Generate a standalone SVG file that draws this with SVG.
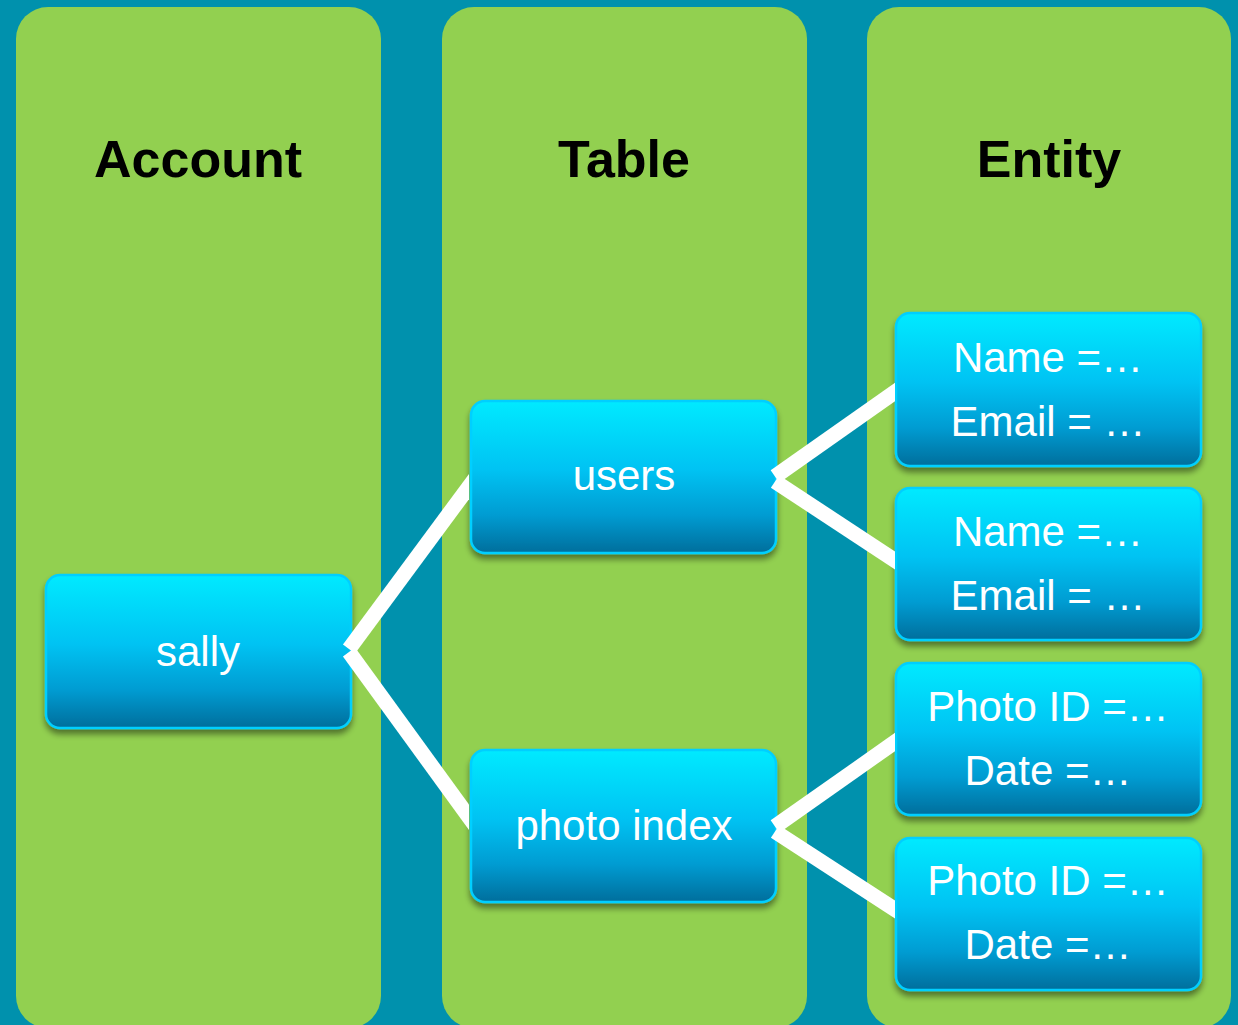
<svg xmlns="http://www.w3.org/2000/svg" width="1238" height="1025" viewBox="0 0 1238 1025">
<defs>
<linearGradient id="g" x1="0" y1="0" x2="0" y2="1">
<stop offset="0" stop-color="#00EAFF"/>
<stop offset="0.45" stop-color="#00C3F3"/>
<stop offset="0.75" stop-color="#009CD2"/>
<stop offset="1" stop-color="#006E9C"/>
</linearGradient>
<filter id="sh" x="-10%" y="-10%" width="120%" height="130%">
<feGaussianBlur in="SourceAlpha" stdDeviation="3"/>
<feOffset dx="0" dy="5"/>
<feComponentTransfer><feFuncA type="linear" slope="0.45"/></feComponentTransfer>
<feMerge><feMergeNode/><feMergeNode in="SourceGraphic"/></feMerge>
</filter>
<clipPath id="clipA"><rect x="0" y="0" width="469" height="1025"/></clipPath>
<clipPath id="clipB"><rect x="0" y="0" width="895" height="1025"/></clipPath>
</defs>
<style>
.panel{fill:#92D050}
.title{font-family:"Liberation Sans",Arial,sans-serif;font-weight:bold;font-size:52px;fill:#000;text-anchor:middle}
.box{fill:url(#g);stroke:#00CFFF;stroke-width:2.5}
.lbl{font-family:"Liberation Sans",Arial,sans-serif;font-size:42px;fill:#fff;text-anchor:middle}
.conn{stroke:#fff;stroke-width:15;fill:none;stroke-linecap:butt}
</style>
<rect width="1238" height="1025" fill="#0091AD"/>
<g id="col-account"><rect class="panel" x="16" y="7" width="365" height="1021" rx="32"/><text class="title" x="198" y="177">Account</text></g>
<g id="col-table"><rect class="panel" x="442" y="7" width="365" height="1021" rx="32"/><text class="title" x="624" y="177">Table</text></g>
<g id="col-entity"><rect class="panel" x="867" y="7" width="364" height="1021" rx="32"/><text class="title" x="1049" y="177">Entity</text></g>
<g id="sally"><rect class="box" filter="url(#sh)" x="46" y="575" width="305" height="153" rx="14"/><text class="lbl" x="198" y="666">sally</text></g>
<g id="users"><rect class="box" filter="url(#sh)" x="471" y="401" width="305" height="152" rx="14"/><text class="lbl" x="624" y="490">users</text></g>
<g id="photo-index"><rect class="box" filter="url(#sh)" x="471" y="750" width="305" height="152" rx="14"/><text class="lbl" x="624" y="840">photo index</text></g>
<g id="entity1"><rect class="box" filter="url(#sh)" x="896" y="313" width="305" height="153" rx="14"/><text class="lbl" x="1048" y="372">Name =…</text><text class="lbl" x="1048" y="436">Email = …</text></g>
<g id="entity2"><rect class="box" filter="url(#sh)" x="896" y="488" width="305" height="152" rx="14"/><text class="lbl" x="1048" y="546">Name =…</text><text class="lbl" x="1048" y="610">Email = …</text></g>
<g id="entity3"><rect class="box" filter="url(#sh)" x="896" y="663" width="305" height="152" rx="14"/><text class="lbl" x="1048" y="721">Photo ID =…</text><text class="lbl" x="1048" y="785">Date =…</text></g>
<g id="entity4"><rect class="box" filter="url(#sh)" x="896" y="838" width="305" height="152" rx="14"/><text class="lbl" x="1048" y="895">Photo ID =…</text><text class="lbl" x="1048" y="959">Date =…</text></g>
<g id="connectors">
<line class="conn" clip-path="url(#clipA)" x1="349" y1="649" x2="479" y2="473"/>
<line class="conn" clip-path="url(#clipA)" x1="349" y1="652" x2="479" y2="831"/>
<line class="conn" clip-path="url(#clipB)" x1="775" y1="476.5" x2="905" y2="385"/>
<line class="conn" clip-path="url(#clipB)" x1="775" y1="481.5" x2="905" y2="567"/>
<line class="conn" clip-path="url(#clipB)" x1="775" y1="826.5" x2="905" y2="735"/>
<line class="conn" clip-path="url(#clipB)" x1="775" y1="831.5" x2="905" y2="916"/>
</g>
</svg>
